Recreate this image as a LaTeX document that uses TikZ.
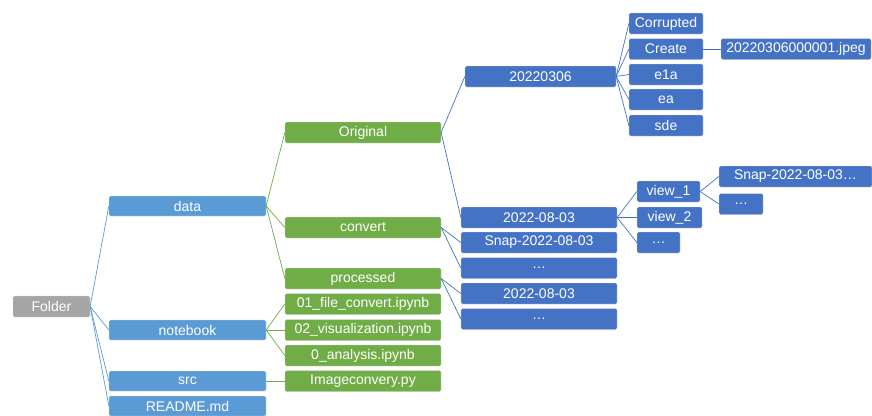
\documentclass[tikz,border=0pt]{standalone}
\usepackage{fontspec}
\setmainfont{Liberation Sans}
\definecolor{grayb}{HTML}{A5A5A5}
\definecolor{lblue}{HTML}{5B9BD5}
\definecolor{lgreen}{HTML}{70AD47}
\definecolor{dblue}{HTML}{4472C4}
\begin{document}
\begin{tikzpicture}[x=1pt,y=-1pt,
  box/.style={rounded corners=1.5pt, inner sep=0pt, minimum height=21pt, text=white,
    font=\fontsize{14}{16}\selectfont, draw=white!85!black, line width=0.3pt},
  gbox/.style={box, fill=grayb},
  lbbox/.style={box, fill=lblue},
  grbox/.style={box, fill=lgreen},
  dbbox/.style={box, fill=dblue},
  lbline/.style={draw=lblue, line width=0.7pt},
  grline/.style={draw=lgreen, line width=0.7pt},
  dbline/.style={draw=dblue, line width=0.7pt}]
\useasboundingbox (0,0) rectangle (872,415);
% level 0
\node[gbox, minimum width=77pt] (folder) at (51.5,306.5) {Folder};
% level 1
\node[lbbox, minimum width=157pt, minimum height=20pt] (data) at (187.5,206) {data};
\node[lbbox, minimum width=157pt, minimum height=20pt] (notebook) at (187.5,330) {notebook};
\node[lbbox, minimum width=157pt, minimum height=20pt] (src) at (187.5,381) {src};
\node[lbbox, minimum width=157pt, minimum height=20pt] (readme) at (187.5,406) {README.md};
% level 2
\node[grbox, minimum width=156pt] (original) at (363,132.5) {Original};
\node[grbox, minimum width=156pt] (convert) at (363,227.5) {convert};
\node[grbox, minimum width=156pt] (processed) at (363,278.5) {processed};
\node[grbox, minimum width=156pt] (nb1) at (363,304) {01\_file\_convert.ipynb};
\node[grbox, minimum width=156pt] (nb2) at (363,330) {02\_visualization.ipynb};
\node[grbox, minimum width=156pt] (nb3) at (363,355.5) {0\_analysis.ipynb};
\node[grbox, minimum width=156pt] (imgc) at (363,381) {Imageconvery.py};
% level 3
\node[dbbox, minimum width=151pt] (d0306) at (540.5,76.5) {20220306};
\node[dbbox, minimum width=156pt] (d0803a) at (539,217.5) {2022-08-03};
\node[dbbox, minimum width=156pt] (snap) at (539,242.5) {Snap-2022-08-03};
\node[dbbox, minimum width=156pt] (dots1) at (539,268) {…};
\node[dbbox, minimum width=156pt] (d0803b) at (539,293.5) {2022-08-03};
\node[dbbox, minimum width=156pt] (dots2) at (539,319) {…};
% level 4
\node[dbbox, minimum width=74pt] (corr) at (666,23.5) {Corrupted};
\node[dbbox, minimum width=74pt] (create) at (666,49) {Create};
\node[dbbox, minimum width=74pt] (e1a) at (666,74.5) {e1a};
\node[dbbox, minimum width=74pt] (ea) at (666,99.5) {ea};
\node[dbbox, minimum width=74pt] (sde) at (666,125.5) {sde};
\node[dbbox, minimum width=63pt] (view1) at (668.5,191.5) {view\_1};
\node[dbbox, minimum width=65pt] (view2) at (669.5,217.5) {view\_2};
\node[dbbox, minimum width=43pt] (dots3) at (658.5,242.5) {…};
% level 5
\node[dbbox, minimum width=150pt] (jpeg) at (796,49) {20220306000001.jpeg};
\node[dbbox, minimum width=153pt] (snap2) at (795.5,176.5) {Snap-2022-08-03…};
\node[dbbox, minimum width=44pt] (dots4) at (741,204) {…};
% connectors
\foreach \c in {data,notebook,src,readme} \path[lbline] (folder.east) -- (\c.west);
\foreach \c in {original,convert,processed} \path[grline] (data.east) -- (\c.west);
\foreach \c in {nb1,nb2,nb3} \path[grline] (notebook.east) -- (\c.west);
\path[grline] (src.east) -- (imgc.west);
\foreach \c in {d0306,d0803a} \path[dbline] (original.east) -- (\c.west);
\foreach \c in {snap,dots1} \path[dbline] (convert.east) -- (\c.west);
\foreach \c in {d0803b,dots2} \path[dbline] (processed.east) -- (\c.west);
\foreach \c in {corr,create,e1a,ea,sde} \path[dbline] (d0306.east) -- (\c.west);
\path[dbline] (create.east) -- (jpeg.west);
\foreach \c in {view1,view2,dots3} \path[dbline] (d0803a.east) -- (\c.west);
\foreach \c in {snap2,dots4} \path[dbline] (view1.east) -- (\c.west);
\end{tikzpicture}
\end{document}
